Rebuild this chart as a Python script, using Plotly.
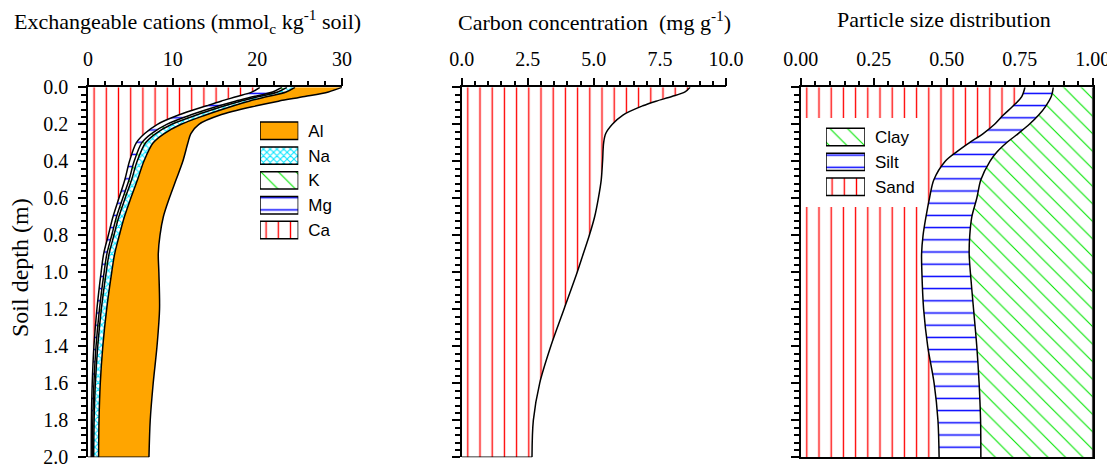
import numpy as np
import plotly.graph_objects as go

# ---------------- data ----------------
depth = [0.0, 0.025, 0.05, 0.075, 0.1, 0.15, 0.2, 0.25, 0.3, 0.4, 0.5,
         0.6, 0.7, 0.8, 0.9, 1.0, 1.2, 1.4, 1.6, 1.8, 2.0]
ca = [20.3, 19.4, 17.6, 15.7, 14.0, 10.7, 8.2, 6.7, 5.7, 4.9, 4.35,
      3.65, 2.95, 2.4, 1.85, 1.55, 1.05, 0.7, 0.5, 0.4, 0.38]
mg = [2.6, 2.4, 2.0, 1.7, 1.5, 1.4, 1.1, 0.8, 0.65, 0.55, 0.5,
      0.45, 0.42, 0.4, 0.38, 0.35, 0.3, 0.25, 0.2, 0.17, 0.15]
k = [0.6, 0.6, 0.6, 0.6, 0.65, 0.7, 0.6, 0.5, 0.45, 0.35, 0.3,
     0.28, 0.27, 0.26, 0.26, 0.25, 0.22, 0.2, 0.17, 0.15, 0.14]
na = [0.95, 1.0, 1.0, 1.0, 1.05, 1.1, 1.1, 1.0, 0.9, 0.8, 0.7,
      0.67, 0.66, 0.64, 0.66, 0.65, 0.63, 0.6, 0.58, 0.58, 0.58]
al = [5.55, 5.0, 4.4, 3.5, 2.7, 1.7, 2.1, 3.15, 4.1, 4.6, 4.55,
      4.55, 4.6, 4.8, 5.15, 5.57, 6.25, 6.4, 6.25, 6.05, 5.95]

carbon = [8.64, 8.45, 7.95, 7.35, 6.85, 6.1, 5.7, 5.45, 5.37, 5.33, 5.28,
          5.17, 5.03, 4.83, 4.6, 4.37, 3.87, 3.37, 2.95, 2.71, 2.66]

psd_depth = [0.0, 0.05, 0.1, 0.15, 0.2, 0.25, 0.3, 0.35, 0.4, 0.5,
             0.6, 0.7, 0.8, 0.9, 1.0, 1.2, 1.4, 1.6, 1.8, 2.0]
sand = [0.768, 0.757, 0.728, 0.694, 0.664, 0.625, 0.577, 0.533, 0.495, 0.456,
        0.441, 0.429, 0.419, 0.414, 0.415, 0.421, 0.435, 0.457, 0.470, 0.474]
silt = [0.097, 0.101, 0.112, 0.121, 0.119, 0.120, 0.128, 0.139, 0.153, 0.161,
        0.162, 0.157, 0.160, 0.163, 0.166, 0.171, 0.168, 0.154, 0.146, 0.143]
clay = [0.135, 0.142, 0.160, 0.185, 0.217, 0.255, 0.295, 0.328, 0.352, 0.383,
        0.397, 0.414, 0.421, 0.423, 0.419, 0.408, 0.397, 0.389, 0.384, 0.383]

cation_names = ["Ca", "Mg", "K", "Na", "Al"]
cation_values = [ca, mg, k, na, al]
texture_names = ["Sand", "Silt", "Clay"]
texture_values = [sand, silt, clay]

# ---------------- styles ----------------
RED, BLUE, GREEN, CYAN, ORANGE = "#FF0000", "#0000FF", "#00E600", "#00E5FF", "#FFA500"
styles = {
    "Ca":   dict(shape="|", fg=RED, size=12.2, sol=0.11, bg="white"),
    "Sand": dict(shape="|", fg=RED, size=12.2, sol=0.11, bg="white"),
    "Mg":   dict(shape="-", fg=BLUE, size=12.2, sol=0.12, bg="white"),
    "Silt": dict(shape="-", fg=BLUE, size=12.2, sol=0.12, bg="white"),
    "K":    dict(shape="\\", fg=GREEN, size=12.4, sol=0.09, bg="white"),
    "Clay": dict(shape="\\", fg=GREEN, size=12.4, sol=0.09, bg="white"),
    "Na":   dict(shape="x", fg=CYAN, size=4.8, sol=0.38, bg="white"),
    "Al":   dict(shape="", fg=ORANGE, size=8, sol=0.3, bg=ORANGE),
}

SERIF = "Liberation Serif"
SANS = "Liberation Sans"
WIN_W, WIN_H = 1115, 466
OFF = 8                      # default page (body) margin around the figure
W, H = WIN_W - OFF, WIN_H - OFF


def fx(p):
    """window pixel x -> paper fraction"""
    return (p - OFF) / W


def fy(p):
    """window pixel y -> paper fraction"""
    return 1 - (p - OFF) / H


PLOT_TOP, PLOT_BOT = 87.3, 457.3
ydom = [fy(PLOT_BOT), fy(PLOT_TOP)]

fig = go.Figure()


def pattern_of(st):
    return dict(shape=st["shape"], fgcolor=st["fg"], bgcolor=st["bg"],
                size=st["size"], solidity=st["sol"], fillmode="replace")


def stacked(names, values, dep, xa, ya):
    cum = np.zeros(len(dep))
    for i, (nm, vals) in enumerate(zip(names, values)):
        cum = cum + np.asarray(vals, dtype=float)
        st = styles[nm]
        kw = {}
        if st["shape"]:
            kw["fillpattern"] = pattern_of(st)
        fig.add_trace(go.Scatter(
            x=cum, y=dep, mode="lines", name=nm,
            line=dict(color="black", width=1.5, shape="spline", smoothing=0.9),
            fill="tozerox" if i == 0 else "tonextx", fillcolor=st["bg"],
            xaxis=xa, yaxis=ya, showlegend=False, hoverinfo="skip", cliponaxis=False, **kw))
    return cum


# left panel: exchangeable cations
tot = stacked(cation_names, cation_values, depth, "x", "y")
fig.add_trace(go.Scatter(x=[0, tot[-1]], y=[depth[-1], depth[-1]], mode="lines",
                         line=dict(color="black", width=1.5), xaxis="x", yaxis="y",
                         showlegend=False, hoverinfo="skip", cliponaxis=False))

# middle panel: carbon
fig.add_trace(go.Scatter(
    x=carbon, y=depth, mode="lines", name="C",
    line=dict(color="black", width=1.5, shape="spline", smoothing=0.9),
    fill="tozerox", fillcolor="white", fillpattern=pattern_of(styles["Ca"]),
    xaxis="x2", yaxis="y2", showlegend=False, hoverinfo="skip", cliponaxis=False))
fig.add_trace(go.Scatter(x=[0, carbon[-1]], y=[depth[-1], depth[-1]], mode="lines",
                         line=dict(color="black", width=1.5), xaxis="x2", yaxis="y2",
                         showlegend=False, hoverinfo="skip", cliponaxis=False))

# right panel: particle size
stacked(texture_names, texture_values, psd_depth, "x3", "y3")


# legend keys (one small bar per item on overlay axes)
def legend_key(names, xa, ya):
    for nm in names:
        st = styles[nm]
        mk = dict(color=st["bg"], line=dict(color="black", width=1.5))
        if st["shape"]:
            mk["pattern"] = pattern_of(st)
        fig.add_trace(go.Bar(y=[nm], x=[1], orientation="h", width=0.7, marker=mk,
                             xaxis=xa, yaxis=ya, showlegend=False, hoverinfo="skip",
                             cliponaxis=False))


legend_key(cation_names[::-1], "x4", "y4")
fig.add_trace(go.Scatter(x=[], y=[], xaxis="x5", yaxis="y5", showlegend=False))
legend_key(texture_names[::-1], "x6", "y6")

# ---------------- axes ----------------
tickfont = dict(family=SERIF, size=20, color="black")
axline = dict(showline=True, linecolor="black", linewidth=1.5, showgrid=False, zeroline=False,
              ticks="outside", ticklen=8, tickwidth=1.5, tickcolor="black", tickfont=tickfont,
              automargin=False, ticklabeloverflow="allow")


def xax(dom, rng, dtick, mdtick, fmt, anchor, mirror=False):
    d = dict(axline)
    d.update(domain=dom, range=rng, dtick=dtick, tick0=0, side="top", anchor=anchor,
             tickformat=fmt, ticklabelstandoff=4, mirror=mirror,
             minor=dict(dtick=mdtick, tick0=0, ticks="outside", ticklen=5, tickwidth=1.5,
                        tickcolor="black"))
    return d


def yax(anchor, labels, mirror=False):
    d = dict(axline)
    d.update(domain=ydom, range=[2, 0], dtick=0.2, tick0=0, anchor=anchor, tickformat=".1f",
             showticklabels=labels, ticklabelstandoff=6, mirror=mirror,
             minor=dict(dtick=0.04, tick0=0, ticks="outside", ticklen=5, tickwidth=1.5,
                        tickcolor="black"))
    return d


def legend_axes(names, x0, x1, ytop, ybot, x_id, y_id):
    xa = dict(domain=[fx(x0), fx(x1)], range=[0, 1], visible=False, fixedrange=True,
              anchor=y_id, automargin=False)
    ya = dict(domain=[fy(ybot), fy(ytop)], type="category", categoryorder="array",
              categoryarray=names, range=[len(names) - 0.5, -0.5], side="right",
              showline=False, ticks="", showgrid=False, zeroline=False, ticklabelstandoff=9,
              tickfont=dict(family=SANS, size=17, color="black"), anchor=x_id,
              automargin=False)
    return xa, ya


lx4, ly4 = legend_axes(cation_names[::-1], 260, 298.3, 118.4, 242.4, "x4", "y4")
lx6, ly6 = legend_axes(texture_names[::-1], 826, 865, 124.6, 199.1, "x6", "y6")

title_font = dict(family=SERIF, size=22, color="black")
TITLE_Y = 21

fig.update_layout(
    width=W, height=H, margin=dict(l=0, r=0, t=0, b=0, autoexpand=False),
    paper_bgcolor="white", plot_bgcolor="white", template="simple_white",
    barmode="overlay",
    xaxis=xax([fx(88), fx(342)], [0, 30], 10, 2, "d", "y"),
    yaxis=yax("x", True),
    xaxis2=xax([fx(461.7), fx(726)], [0, 10], 2.5, 0.5, ".1f", "y2"),
    yaxis2=yax("x2", False),
    xaxis3=xax([fx(800.7), fx(1092.7)], [0, 1], 0.25, 0.05, ".2f", "y3", mirror=True),
    yaxis3=yax("x3", False, mirror=True),
    xaxis4=lx4, yaxis4=ly4,
    xaxis5=dict(domain=[fx(803), fx(922)], range=[0, 1], visible=False, anchor="y5",
                automargin=False),
    yaxis5=dict(domain=[fy(207), fy(118)], range=[0, 1], visible=False, anchor="x5",
                automargin=False),
    xaxis6=lx6, yaxis6=ly6,
    shapes=[dict(type="rect", xref="x5", yref="y5", x0=0, x1=1, y0=0, y1=1,
                 fillcolor="white", line=dict(width=0), layer="below")],
    annotations=[
        dict(text="Exchangeable cations (mmol<sub>c</sub> kg<sup>-1</sup> soil)", x=fx(187), y=fy(TITLE_Y),
             xref="paper", yref="paper", showarrow=False, xanchor="center", yanchor="middle",
             font=title_font),
        dict(text="Carbon concentration\u00a0 (mg g<sup>-1</sup>)", x=fx(594), y=fy(TITLE_Y),
             xref="paper", yref="paper", showarrow=False, xanchor="center", yanchor="middle",
             font=title_font),
        dict(text="Particle size distribution", x=fx(944), y=fy(TITLE_Y - 1),
             xref="paper", yref="paper", showarrow=False, xanchor="center", yanchor="middle",
             font=title_font),
        dict(text="Soil depth (m)", x=fx(20), y=fy(268), textangle=-90,
             xref="paper", yref="paper", showarrow=False, xanchor="center", yanchor="middle",
             font=dict(family=SERIF, size=24, color="black")),
    ],
)

fig.write_html("out.html")
